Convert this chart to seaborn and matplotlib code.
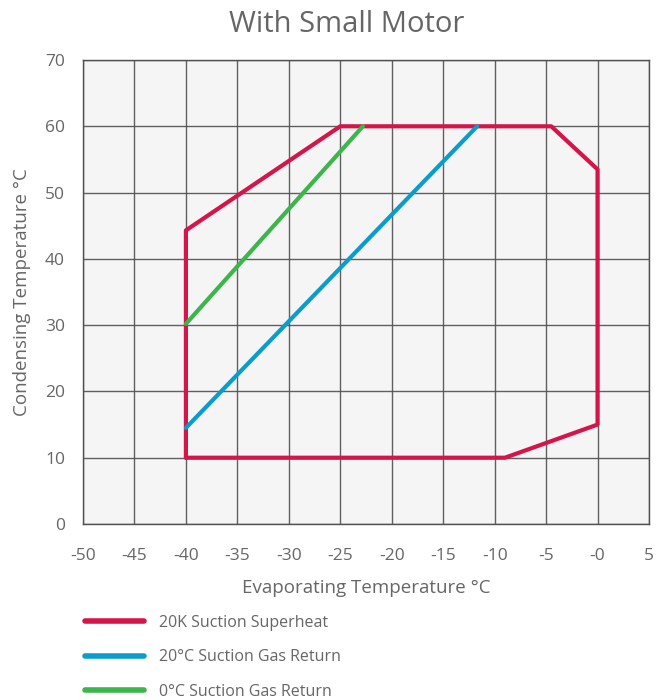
import pandas as pd
import matplotlib
matplotlib.use("Agg")
import matplotlib.pyplot as plt
import seaborn as sns

# operating envelope, 20K superheat (closed polygon)
env_x = [-40, -40, -25, -4.5, 0, 0, -9, -40]
env_y = [10, 44.3, 60, 60, 53.5, 15, 10, 10]
# 20°C suction gas return limit
ret20_x = [-40, -11.7]
ret20_y = [14.5, 60]
# 0°C suction gas return limit
ret0_x = [-40, -22.8]
ret0_y = [30.2, 60]

labels = ["20K Suction Superheat", "20°C Suction Gas Return", "0°C Suction Gas Return"]
colors = ["#D5154A", "#0A9DCB", "#3CB54A"]

xticks = list(range(-50, 6, 5))
xticklabels = [str(t) if t != 0 else "-0" for t in xticks]
yticks = list(range(0, 71, 10))

df = pd.concat([
    pd.DataFrame({"x": env_x, "y": env_y, "series": labels[0]}),
    pd.DataFrame({"x": ret20_x, "y": ret20_y, "series": labels[1]}),
    pd.DataFrame({"x": ret0_x, "y": ret0_y, "series": labels[2]}),
])

sns.set_style("white")
plt.rcParams["font.family"] = ["Open Sans", "DejaVu Sans"]
txt = "#666666"
gridc = "#505050"

fig = plt.figure(figsize=(6.57, 7.0), dpi=100)
ax = fig.add_axes([83 / 657, 1 - 524 / 700, 566 / 657, 464 / 700])
ax.set_facecolor("#F5F5F5")

sns.lineplot(data=df, x="x", y="y", hue="series", sort=False, estimator=None,
             palette=dict(zip(labels, colors)), linewidth=3, ax=ax, legend=False,
             zorder=3)

ax.set_xlim(-50, 5)
ax.set_ylim(0, 70)
ax.set_xticks(xticks)
ax.set_xticklabels(xticklabels)
ax.set_yticks(yticks)
ax.grid(True, color=gridc, linewidth=1, alpha=0.9)
ax.set_axisbelow(True)
for s in ax.spines.values():
    s.set_color(gridc)
    s.set_linewidth(1)
ax.tick_params(axis="both", length=9, width=1, color=gridc, labelcolor=txt,
               labelsize=12.5)
ax.tick_params(axis="x", pad=8)
ax.tick_params(axis="y", pad=4)

ax.set_xlabel("Evaporating Temperature °C", fontsize=13.5, color=txt, labelpad=11)
ax.set_ylabel("Condensing Temperature °C", fontsize=13.5, color=txt, labelpad=10)
fig.text(347 / 657, 1 - 25 / 700, "With Small Motor", fontsize=21, color=txt,
         ha="center", va="center")

handles = [plt.Line2D([], [], color=c, linewidth=4) for c in colors]
fig.legend(handles, labels, loc="upper left", bbox_to_anchor=(0.108, 0.142),
           frameon=False, fontsize=11.5, handlelength=3.7, handletextpad=0.9,
           labelspacing=1.15, labelcolor=txt)

fig.savefig("out.png", dpi=100)
